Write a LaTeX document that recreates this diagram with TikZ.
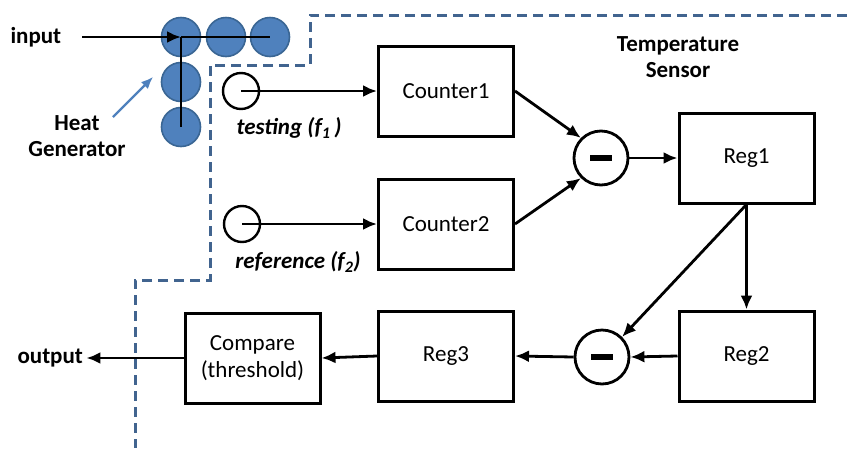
\documentclass[tikz,border=0pt]{standalone}
\usepackage{fontspec}
\setmainfont{Carlito}
\usetikzlibrary{arrows.meta}
\begin{document}
\begin{tikzpicture}[x=1pt,y=-1pt,
  every node/.style={font=\fontsize{23}{27}\selectfont},
  box/.style={draw,line width=3pt,minimum width=135pt,minimum height=90pt,inner sep=0pt,align=center},
  heat/.style={circle,draw=hgborder,fill=hgfill,line width=1.6pt,minimum size=39pt,inner sep=0pt},
  src/.style={circle,draw,line width=2.4pt,minimum size=36pt,inner sep=0pt},
  sub/.style={circle,draw,line width=2.8pt,minimum size=54pt,inner sep=0pt},
  arr/.style={line width=2.8pt,-{Latex[length=14pt,width=12pt]}},
  lbl/.style={font=\fontsize{23}{27}\selectfont\bfseries},
  ilbl/.style={font=\fontsize{23}{27}\selectfont\bfseries\itshape}]
\definecolor{hgfill}{HTML}{4F81BD}
\definecolor{hgborder}{HTML}{3A6694}
\definecolor{dashc}{HTML}{41648F}
\useasboundingbox (0,0) rectangle (847,448);
% dashed boundary
\draw[dashc,line width=3pt,dash pattern=on 10pt off 6pt] (847,15) -- (310,15) -- (310,65) -- (210,65) -- (210,280) -- (135,280) -- (135,448);
% heat generator
\node[heat] (h1) at (181,37) {};
\node[heat] (h2) at (226,37) {};
\node[heat] (h3) at (270,37) {};
\node[heat] (h4) at (181,82) {};
\node[heat] (h5) at (181,127) {};
\node[lbl,anchor=west] (in) at (7,37) {input};
\coordinate (inS) at (82,37);
\draw[arr] (inS) -- (h1.center);
\draw[line width=2.8pt] (h1.center) -- (h3.center);
\draw[line width=2.8pt] (h1.center) -- (h5.center);
\node[lbl,align=center] (hg) at (77,136) {Heat\\[-1pt]Generator};
\coordinate (hgA) at (113,117);
\coordinate (hgB) at (153,77);
\draw[hgfill,line width=2.2pt,-{Latex[length=12pt,width=10pt]}] (hgA) -- (hgB);
% temperature sensor label
\node[lbl,align=center] (ts) at (678,57) {Temperature\\[-1pt]Sensor};
% sources
\node[src] (s1) at (241,91) {};
\node[src] (s2) at (242,224) {};
\node[ilbl] (t1) at (289,128) {testing (f\textsubscript{1}\,)};
\node[ilbl] (t2) at (298,262) {reference (f\textsubscript{2})};
% boxes
\node[box] (c1) at (446,91) {Counter1};
\node[box] (c2) at (446,224) {Counter2};
\node[box] (r1) at (746.5,158) {Reg1};
\node[box] (r2) at (746.5,356) {Reg2};
\node[box] (r3) at (446,356) {Reg3};
\node[box] (cmp) at (252.5,358) {Compare\\(threshold)};
% subtractors
\node[sub] (m1) at (601,158) {};
\node[sub] (m2) at (602,357) {};
\draw[line width=6pt] ([xshift=-11pt]m1.center) -- ([xshift=11pt]m1.center);
\draw[line width=6pt] ([xshift=-11pt]m2.center) -- ([xshift=11pt]m2.center);
% connectors
\draw[arr] (s1.center) -- (c1.west);
\draw[arr] (s2.center) -- (c2.west);
\draw[arr] (c1.east) -- (m1.135);
\draw[arr] (c2.east) -- (m1.225);
\draw[arr] (m1.east) -- (r1.west);
\draw[arr] (r1.south) -- (r2.north);
\draw[arr] (r1.south) -- (m2.45);
\draw[arr] (r2.west) -- (m2.east);
\draw[arr] (m2.west) -- (r3.east);
\draw[arr] (r3.west) -- (cmp.east);
\node[lbl,anchor=west] (out) at (14,358) {output};
\draw[arr] (cmp.west) -- (out.east);
\end{tikzpicture}
\end{document}
